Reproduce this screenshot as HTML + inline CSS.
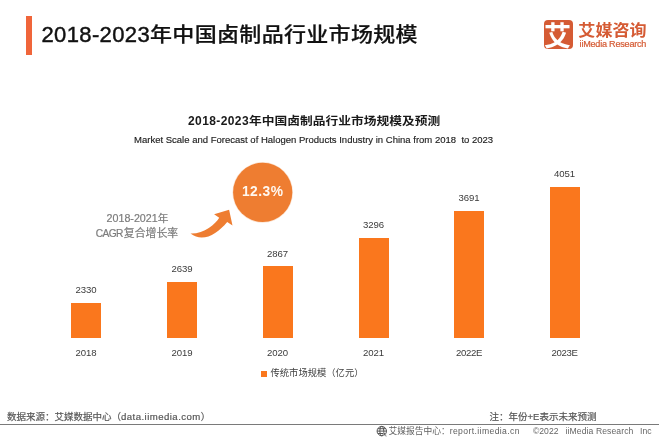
<!DOCTYPE html>
<html lang="zh">
<head>
<meta charset="utf-8">
<title>2018-2023年中国卤制品行业市场规模</title>
<style>
html,body{margin:0;padding:0;background:#fff;}
body{width:660px;height:440px;position:relative;overflow:hidden;font-family:"Liberation Sans","Noto Sans CJK SC",sans-serif;color:#404040;}
.a{position:absolute;white-space:nowrap;line-height:1;}
.bar{position:absolute;background:#fa771d;width:30.2px;}
.v{position:absolute;width:60px;text-align:center;font-size:9.6px;letter-spacing:-0.12px;line-height:1;color:#3b3b3b;white-space:nowrap;}
</style>
</head>
<body>
<!-- header -->
<div class="a" style="left:26.2px;top:15.8px;width:5.8px;height:39px;background:#f0653a;"></div>
<div class="a" id="title" style="left:41.5px;top:24.3px;font-size:22px;font-weight:500;color:#111;-webkit-text-stroke:0.25px #111;letter-spacing:0.32px;"><span style="letter-spacing:0.37px;-webkit-text-stroke:0.45px #111;">2018-2023</span><span style="display:inline-block;transform:scaleY(0.91);transform-origin:50% 58%;">年中国卤制品行业市场规模</span></div>

<!-- logo -->
<div class="a" style="left:543.8px;top:19.6px;width:29px;height:29.5px;border-radius:4px;background:#d55b34;"></div>
<div class="a" id="logoch" style="left:543.8px;top:19.6px;width:29px;height:29.5px;border-radius:4px;overflow:hidden;text-align:center;text-indent:-1.6px;font-size:27px;line-height:35.6px;font-weight:700;color:#fff;">艾</div>
<div class="a" id="logot" style="left:578.3px;top:22.3px;font-size:17.1px;font-weight:700;color:#d55b34;transform:scaleY(0.93);transform-origin:50% 92%;">艾媒咨询</div>
<div class="a" id="logoe" style="left:579.6px;top:40.2px;font-size:9.1px;letter-spacing:-0.23px;color:#d55b34;-webkit-text-stroke:0.2px #d55b34;">iiMedia Research</div>

<!-- chart titles -->
<div class="a" id="ct" style="left:188px;top:114.8px;font-size:12.75px;font-weight:700;color:#1a1a1a;"><span style="font-size:12px;letter-spacing:0.4px;">2018-2023</span><span style="display:inline-block;transform:scaleY(0.88);transform-origin:50% 52%;">年中国卤制品行业市场规模及预测</span></div>
<div class="a" id="cs" style="left:134px;top:134.7px;font-size:9.53px;color:#222;-webkit-text-stroke:0.15px #222;">Market Scale and Forecast of Halogen Products Industry in China from 2018&nbsp; to 2023</div>

<!-- CAGR -->
<div class="a" id="cg1" style="left:87.5px;width:100px;text-align:center;top:212.8px;font-size:10.7px;color:#7c7c7c;-webkit-text-stroke:0.2px #7c7c7c;">2018-2021年</div>
<div class="a" id="cg2" style="left:87px;width:100px;text-align:center;top:228.2px;font-size:10.9px;color:#7c7c7c;-webkit-text-stroke:0.2px #7c7c7c;"><span style="font-size:10.2px;letter-spacing:-0.6px;">CAGR</span><span style="margin-left:1px">复合增长率</span></div>
<svg class="a" style="left:0;top:0;" width="660" height="440" viewBox="0 0 660 440">
  <circle cx="262.7" cy="192.4" r="30.3" fill="#fbe3d2"/>
  <circle cx="262.7" cy="192.4" r="29.6" fill="#ee7d31"/>
  <path d="M190.5 233.6 C203 243 217 234 227.2 221.9 L232.5 225.5 L229.1 209.8 L214.1 214.3 L219.2 217.7 C215.5 224 204 234 190.5 233.6 Z" fill="#ee7d31"/>
  <text id="pct" x="262.7" y="196.2" text-anchor="middle" font-family="'Liberation Sans',sans-serif" font-weight="700" font-size="13.8px" letter-spacing="0.45" fill="#fff8f0">12.3%</text>
</svg>

<!-- bars -->
<div class="bar" style="left:71px;top:302.5px;height:35.5px;"></div>
<div class="bar" style="left:167px;top:281.5px;height:56.5px;"></div>
<div class="bar" style="left:262.5px;top:266px;height:72px;"></div>
<div class="bar" style="left:358.5px;top:237.5px;height:100.5px;"></div>
<div class="bar" style="left:454px;top:210.5px;height:127.5px;"></div>
<div class="bar" style="left:549.5px;top:186.5px;height:151.5px;"></div>

<div class="v" style="left:56px;top:285.1px;">2330</div>
<div class="v" style="left:152px;top:264.1px;">2639</div>
<div class="v" style="left:247.5px;top:248.6px;">2867</div>
<div class="v" style="left:343.5px;top:220.1px;">3296</div>
<div class="v" style="left:439px;top:193.1px;">3691</div>
<div class="v" style="left:534.5px;top:169.1px;">4051</div>

<div class="v" id="x1" style="left:56px;top:347.9px;">2018</div>
<div class="v" style="left:152px;top:347.9px;">2019</div>
<div class="v" style="left:247.5px;top:347.9px;">2020</div>
<div class="v" style="left:343.5px;top:347.9px;">2021</div>
<div class="v" style="left:439px;top:347.9px;letter-spacing:-0.35px;">2022E</div>
<div class="v" style="left:534.5px;top:347.9px;letter-spacing:-0.35px;">2023E</div>

<!-- legend -->
<div class="a" style="left:261.3px;top:370.6px;width:6.1px;height:6px;background:#fa771d;"></div>
<div class="a" id="lg" style="left:270.5px;top:368.6px;font-size:9.3px;color:#404040;">传统市场规模（亿元）</div>

<!-- footer -->
<div class="a" id="src" style="left:7px;top:411.7px;font-size:9.5px;color:#555;-webkit-text-stroke:0.18px #555;">数据来源：艾媒数据中心（<span style="font-size:9.6px;letter-spacing:0.45px;">data.iimedia.com</span>）</div>
<div class="a" id="note" style="left:489.5px;top:411.7px;font-size:9.5px;color:#555;-webkit-text-stroke:0.18px #555;">注：年份+E表示未来预测</div>
<div class="a" style="left:0;top:423.8px;width:659px;height:1.4px;background:#7a7a7a;"></div>
<svg class="a" style="left:376px;top:425px;" width="13" height="13" viewBox="0 0 13 13" fill="none" stroke="#555" stroke-width="1">
  <circle cx="5.8" cy="6.1" r="4.7"/>
  <ellipse cx="5.8" cy="6.1" rx="2" ry="4.7"/>
  <path d="M1.1 6.1H10.5M2 3.7H9.6M2 8.5H9.6"/>
  <path d="M7.4 7.3L11 8.8L9.5 9.4L10.8 11.3L10 11.8L8.8 9.9L7.8 10.9Z" fill="#555" stroke="#fff" stroke-width="0.4"/>
</svg>
<div class="a" id="f1" style="left:388.4px;top:426.8px;font-size:8.75px;color:#606060;">艾媒报告中心：<span id="f1b" style="font-size:8.6px;letter-spacing:0.4px;">report.iimedia.cn</span></div>
<div class="a" id="f2" style="left:533px;top:427px;font-size:8.6px;color:#666;">©2022</div>
<div class="a" id="f3" style="left:565.5px;top:427px;font-size:8.6px;letter-spacing:0.1px;color:#666;">iiMedia Research</div>
<div class="a" id="f4" style="left:640px;top:427px;font-size:8.6px;color:#666;">Inc</div>
</body>
</html>
